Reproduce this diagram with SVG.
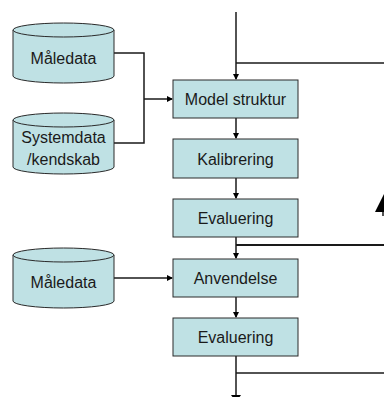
<svg xmlns="http://www.w3.org/2000/svg" width="384" height="397" viewBox="0 0 384 397">
<defs>
<style>
.box{fill:#bfe1e4;stroke:#2a2a2a;stroke-width:1}
.cyl{fill:#bfe1e4;stroke:#2a2a2a;stroke-width:1}
.lbl{font-family:"Liberation Sans",Arial,sans-serif;font-size:16px;fill:#1a1a1a;text-anchor:middle}
.ln{fill:none;stroke:#1a1a1a;stroke-width:1.5}
</style>
<marker id="ah" markerWidth="6" markerHeight="6" refX="5" refY="3" orient="auto" markerUnits="userSpaceOnUse">
<path d="M0,0 L6,3 L0,6 Z" fill="#000"/>
</marker>
</defs>
<rect width="384" height="397" fill="#fff"/>

<g id="connectors">
<path class="ln" d="M236,12 V79" marker-end="url(#ah)"/>
<path class="ln" d="M236,63 H384"/>
<path class="ln" d="M114,53 H144 V143 H114"/>
<path class="ln" d="M144,99 H172" marker-end="url(#ah)"/>
<path class="ln" d="M236,118 V138" marker-end="url(#ah)"/>
<path class="ln" d="M236,178 V198" marker-end="url(#ah)"/>
<path class="ln" d="M236,237 V258" marker-end="url(#ah)"/>
<path class="ln" d="M236,245 H384" style="stroke-width:2"/>
<path class="ln" d="M114,278 H172" marker-end="url(#ah)"/>
<path class="ln" d="M236,297 V317" marker-end="url(#ah)"/>
<path class="ln" d="M236,356 V397"/>
<path class="ln" d="M236,373 H384"/>
<path d="M231,395 H241 L236,402 Z" fill="#000"/>
<path d="M384,194 L375,212 H393 Z" fill="#000"/>
<path class="ln" d="M383,212 V216"/>
</g>

<g id="cyl-maledata1">
<path class="cyl" d="M13,30 V76 A50.5,7 0 0 0 114,76 V30"/>
<ellipse class="cyl" cx="63.5" cy="30" rx="50.5" ry="7"/>
<text class="lbl" x="63.5" y="64">Måledata</text>
</g>

<g id="cyl-systemdata">
<path class="cyl" d="M13,120 V167 A50.5,7 0 0 0 114,167 V120"/>
<ellipse class="cyl" cx="63.5" cy="120" rx="50.5" ry="7"/>
<text class="lbl" x="63.5" y="143">Systemdata</text>
<text class="lbl" x="63.5" y="165">/kendskab</text>
</g>

<g id="cyl-maledata2">
<path class="cyl" d="M13,255 V301 A50.5,7 0 0 0 114,301 V255"/>
<ellipse class="cyl" cx="63.5" cy="255" rx="50.5" ry="7"/>
<text class="lbl" x="63.5" y="288">Måledata</text>
</g>

<g id="box-model">
<rect class="box" x="173" y="80" width="125" height="38"/>
<text class="lbl" x="235.5" y="105">Model struktur</text>
</g>
<g id="box-kalibrering">
<rect class="box" x="173" y="139" width="125" height="39"/>
<text class="lbl" x="235.5" y="165">Kalibrering</text>
</g>
<g id="box-evaluering1">
<rect class="box" x="173" y="199" width="125" height="38"/>
<text class="lbl" x="235.5" y="224">Evaluering</text>
</g>
<g id="box-anvendelse">
<rect class="box" x="173" y="259" width="125" height="38"/>
<text class="lbl" x="235.5" y="284">Anvendelse</text>
</g>
<g id="box-evaluering2">
<rect class="box" x="173" y="318" width="125" height="38"/>
<text class="lbl" x="235.5" y="343">Evaluering</text>
</g>
</svg>
